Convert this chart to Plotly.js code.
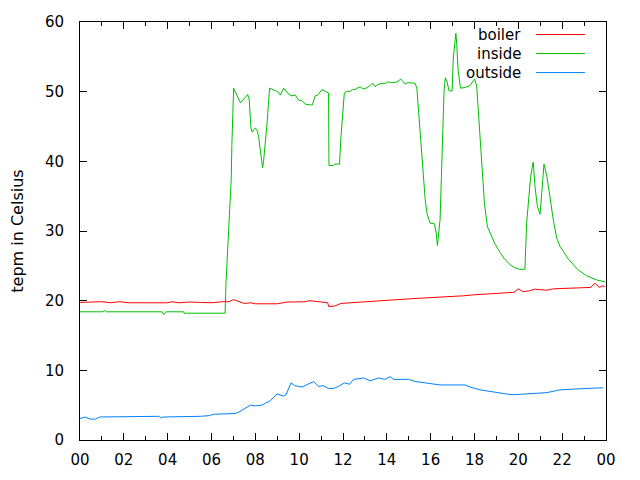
<!DOCTYPE html>
<html>
<head>
<meta charset="utf-8">
<script src="https://cdn.plot.ly/plotly-3.0.1.min.js"></script>
<style>html,body{margin:0;padding:0;background:#fff}#chart{width:640px;height:480px}</style>
</head>
<body>
<div id="chart"></div>
<script>
// Hours of day (0..24) and temperatures in Celsius
var boilerHours = [0, 0.5, 1.0, 1.4, 1.8, 2.2, 3.0, 3.5, 4.0, 4.2, 4.5, 5.0, 5.5, 6.0, 6.5, 6.8, 7.0, 7.2, 7.5, 7.8, 8.0, 9.0, 9.45, 10.3, 10.45, 10.9, 11.3, 11.35, 11.65, 11.9, 12.3, 13.0, 13.6, 14.5, 15.5, 16.5, 17.5, 18.0, 18.7, 19.2, 19.8, 20.0, 20.2, 20.5, 20.75, 21.3, 21.6, 22.0, 22.9, 23.3, 23.5, 23.7, 23.85, 23.95];
var boilerTemps = [19.75, 19.85, 19.85, 19.7, 19.85, 19.7, 19.75, 19.7, 19.7, 19.85, 19.7, 19.8, 19.75, 19.7, 19.85, 19.85, 20.15, 19.9, 19.6, 19.7, 19.55, 19.55, 19.8, 19.85, 20.0, 19.85, 19.7, 19.15, 19.25, 19.6, 19.7, 19.85, 20.0, 20.15, 20.35, 20.5, 20.7, 20.85, 21.0, 21.15, 21.2, 21.7, 21.3, 21.4, 21.65, 21.5, 21.7, 21.75, 21.9, 21.9, 22.5, 21.9, 22.15, 22.0];

var insideHours = [0, 1.05, 1.12, 1.2, 3.75, 3.82, 3.94, 4.73, 4.75, 6.62, 6.66, 6.9, 6.93, 6.97, 7.01, 7.32, 7.65, 7.72, 7.75, 7.8, 7.85, 8.0, 8.08, 8.15, 8.2, 8.26, 8.33, 8.37, 8.42, 8.49, 8.54, 8.58, 8.65, 8.87, 9.02, 9.14, 9.29, 9.47, 9.63, 9.82, 9.97, 10.13, 10.28, 10.5, 10.6, 10.73, 10.84, 11.04, 11.19, 11.34, 11.36, 11.57, 11.62, 11.84, 11.9, 11.95, 12.0, 12.06, 12.18, 12.3, 12.43, 12.55, 12.65, 12.78, 12.86, 12.97, 13.05, 13.12, 13.2, 13.35, 13.47, 13.57, 13.77, 13.92, 14.07, 14.22, 14.46, 14.64, 14.76, 14.84, 14.96, 15.29, 15.37, 15.42, 15.46, 15.52, 15.57, 15.63, 15.67, 15.75, 15.84, 15.98, 16.16, 16.25, 16.31, 16.37, 16.43, 16.49, 16.55, 16.61, 16.67, 16.75, 16.84, 16.98, 17.03, 17.15, 17.19, 17.25, 17.36, 17.57, 17.8, 18.01, 18.1, 18.18, 18.25, 18.35, 18.45, 18.59, 18.94, 19.17, 19.39, 19.62, 19.85, 20.07, 20.3, 20.38, 20.46, 20.56, 20.68, 20.76, 20.87, 20.99, 21.07, 21.17, 21.3, 21.45, 21.6, 21.75, 21.9, 22.07, 22.3, 22.7, 23.1, 23.55, 23.95];
var insideTemps = [18.4, 18.4, 18.6, 18.4, 18.4, 18.0, 18.4, 18.4, 18.2, 18.2, 22.5, 37.5, 42.4, 47.7, 50.5, 48.4, 49.6, 48.9, 47.5, 44.8, 44.2, 44.8, 44.4, 43.6, 42.2, 40.8, 39.1, 39.8, 41.3, 43.6, 45.6, 47.5, 50.5, 50.2, 50.0, 49.5, 50.5, 49.8, 49.4, 49.5, 48.8, 48.7, 48.2, 48.1, 48.1, 49.4, 49.5, 50.3, 50.1, 49.8, 39.4, 39.4, 39.6, 39.6, 43.2, 45.8, 48.4, 49.8, 50.1, 50.0, 50.3, 50.3, 50.5, 50.7, 50.5, 50.4, 50.5, 50.7, 50.8, 51.2, 50.7, 51.0, 51.2, 51.2, 51.4, 51.3, 51.4, 51.8, 51.4, 51.1, 51.3, 51.2, 50.5, 48.4, 46.5, 44.8, 42.4, 39.8, 37.4, 34.5, 32.4, 31.1, 31.1, 29.8, 27.9, 29.4, 31.7, 37.8, 44.6, 50.1, 52.0, 51.4, 50.1, 50.1, 54.7, 58.4, 56.8, 53.2, 50.5, 50.6, 50.9, 51.8, 50.8, 47.0, 42.2, 37.8, 34.1, 30.6, 28.1, 26.9, 25.9, 25.2, 24.7, 24.5, 24.5, 31.2, 34.5, 37.8, 39.9, 36.4, 33.5, 32.4, 35.5, 39.6, 37.9, 34.5, 31.5, 29.0, 27.8, 27.0, 25.9, 24.5, 23.6, 23.0, 22.7];

var outsideHours = [0, 0.25, 0.45, 0.7, 0.9, 2.6, 2.7, 3.6, 3.67, 3.8, 5.5, 5.9, 6.1, 7.09, 7.3, 7.6, 7.77, 8.0, 8.3, 8.68, 8.99, 9.29, 9.4, 9.63, 9.8, 10.13, 10.35, 10.66, 10.88, 11.1, 11.34, 11.57, 11.8, 12.06, 12.3, 12.48, 12.94, 13.24, 13.62, 13.92, 14.15, 14.3, 14.99, 15.29, 15.75, 16.43, 17.57, 17.8, 18.25, 18.79, 19.47, 19.77, 20.23, 20.84, 21.3, 21.9, 22.36, 23.12, 23.87];
var outsideTemps = [3.1, 3.3, 3.0, 3.0, 3.3, 3.3, 3.4, 3.4, 3.2, 3.3, 3.4, 3.5, 3.7, 3.8, 4.1, 4.6, 5.0, 4.9, 5.0, 5.65, 6.6, 6.3, 6.5, 8.2, 7.8, 7.6, 7.9, 8.4, 7.7, 7.8, 7.4, 7.4, 7.7, 8.2, 8.0, 8.7, 8.9, 8.5, 8.9, 8.7, 9.1, 8.7, 8.7, 8.4, 8.2, 7.9, 7.9, 7.6, 7.2, 6.9, 6.6, 6.5, 6.6, 6.7, 6.8, 7.2, 7.3, 7.4, 7.5];

var seriesNames = ["boiler", "inside", "outside"];
var seriesColors = ["#ff0000", "#00c000", "#0080ff"];
var xTickVals = [0, 2, 4, 6, 8, 10, 12, 14, 16, 18, 20, 22, 24];
var xTickText = ["00", "02", "04", "06", "08", "10", "12", "14", "16", "18", "20", "22", "00"];
var yTickVals = [0, 10, 20, 30, 40, 50, 60];

var FONT = "DejaVu Sans, sans-serif";
var xs = [boilerHours, insideHours, outsideHours];
var ys = [boilerTemps, insideTemps, outsideTemps];

var traces = seriesNames.map(function (n, i) {
  return {
    x: xs[i], y: ys[i], name: n, type: "scatter", mode: "lines",
    line: {color: seriesColors[i], width: 1}, showlegend: false, hoverinfo: "skip"
  };
});

// custom gnuplot-style key: text right-aligned, sample line to the right
var annotations = [];
var shapes = [];
seriesNames.forEach(function (n, i) {
  var yp = 0.970 - i * 0.0455;
  annotations.push({
    text: n, xref: "paper", yref: "paper", x: 0.843, y: yp,
    xanchor: "right", yanchor: "middle", showarrow: false,
    font: {family: FONT, size: 15, color: "#000"}
  });
  shapes.push({
    type: "line", xref: "paper", yref: "paper", x0: 0.867, x1: 0.960, y0: yp, y1: yp,
    line: {color: seriesColors[i], width: 1}
  });
});

var layout = {
  width: 640, height: 480,
  margin: {l: 80, r: 34, t: 22, b: 40},
  paper_bgcolor: "#fff", plot_bgcolor: "#fff",
  font: {family: FONT, size: 15, color: "#000"},
  xaxis: {
    range: [0, 24], tickvals: xTickVals, ticktext: xTickText,
    showgrid: false, zeroline: false, showline: true, linecolor: "#000", linewidth: 1,
    mirror: "ticks", ticks: "inside", ticklen: 7, tickcolor: "#000", tickwidth: 1,
    minor: {dtick: 1, tick0: 0, ticks: "inside", ticklen: 4, tickcolor: "#000", showgrid: false},
    ticklabelstandoff: 6,
    tickfont: {family: FONT, size: 15, color: "#000"}
  },
  yaxis: {
    range: [0, 60], tickvals: yTickVals,
    showgrid: false, zeroline: false, showline: true, linecolor: "#000", linewidth: 1,
    mirror: "ticks", ticks: "inside", ticklen: 7, tickcolor: "#000", tickwidth: 1,
    ticklabelstandoff: 12,
    tickfont: {family: FONT, size: 15, color: "#000"},
    title: {text: "tepm in Celsius", font: {family: FONT, size: 16, color: "#000"}, standoff: 17}
  },
  annotations: annotations,
  shapes: shapes
};

Plotly.newPlot("chart", traces, layout, {staticPlot: true, displayModeBar: false});
</script>
</body>
</html>
